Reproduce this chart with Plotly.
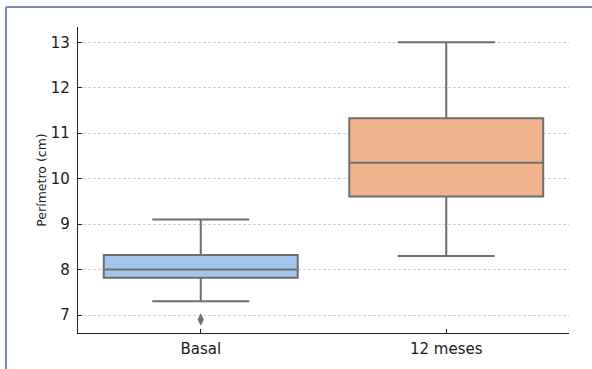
import plotly.graph_objects as go

categories = ["Basal", "12 meses"]
lower_whisker = [7.3, 8.3]
q1_vals = [7.82, 9.61]
median_vals = [8.0, 10.35]
q3_vals = [8.32, 11.33]
upper_whisker = [9.1, 13.0]
outlier_cat = ["Basal"]
outlier_vals = [6.9]
fill_colors = ["#a3c6ec", "#efb48d"]
y_ticks = [7, 8, 9, 10, 11, 12, 13]

line_gray = "#6e6e6e"

fig = go.Figure()
for i, cat in enumerate(categories):
    fig.add_trace(go.Box(
        x=[cat],
        q1=[q1_vals[i]], median=[median_vals[i]], q3=[q3_vals[i]],
        lowerfence=[lower_whisker[i]], upperfence=[upper_whisker[i]],
        fillcolor=fill_colors[i],
        line=dict(color=line_gray, width=2),
        width=0.79, whiskerwidth=0.5,
        boxpoints=False, showlegend=False, hoverinfo="skip",
    ))

fig.add_trace(go.Scatter(
    x=outlier_cat, y=outlier_vals, mode="markers",
    marker=dict(symbol="diamond-tall", size=9, color=line_gray,
                line=dict(width=0)),
    showlegend=False, hoverinfo="skip",
))

axis_font = dict(family="DejaVu Sans", size=15, color="#1a1a1a")

fig.update_layout(
    width=592, height=369,
    margin=dict(l=78, r=23, t=27, b=36),
    paper_bgcolor="white", plot_bgcolor="white",
    font=dict(family="DejaVu Sans"),
    xaxis=dict(
        type="category", range=[-0.5, 1.5],
        showline=True, linecolor="#222222", linewidth=1.3,
        ticks="inside", ticklen=4, tickcolor="#222222",
        tickfont=axis_font, showgrid=False, zeroline=False,
        ticklabelstandoff=2,
    ),
    yaxis=dict(
        range=[6.604, 13.337], tickvals=y_ticks,
        showline=True, linecolor="#222222", linewidth=1.3,
        ticks="inside", ticklen=4, tickcolor="#222222",
        tickfont=axis_font, ticklabelstandoff=4,
        showgrid=True, gridcolor="#d0d0d0", griddash="3px,2px", gridwidth=1,
        zeroline=False,
        title=dict(text="Perímetro (cm)",
                   font=dict(family="DejaVu Sans", size=12.5, color="#1a1a1a"),
                   standoff=1),
    ),
)

# outer frame (top and left edges visible)
px0 = (6 - 78) / 491
py_top = 1 + (27 - 7) / 306
px_right = 1 + 23 / 491
py_bottom = -36 / 306
border_color = "#7c88c6"
fig.add_shape(type="line", xref="paper", yref="paper",
              x0=px0, x1=px_right, y0=py_top, y1=py_top,
              line=dict(color=border_color, width=2))
fig.add_shape(type="line", xref="paper", yref="paper",
              x0=px0, x1=px0, y0=py_top, y1=py_bottom,
              line=dict(color=border_color, width=2))

fig.write_html("out.html", config={"displayModeBar": False},
               post_script="document.body.style.margin='0';")
